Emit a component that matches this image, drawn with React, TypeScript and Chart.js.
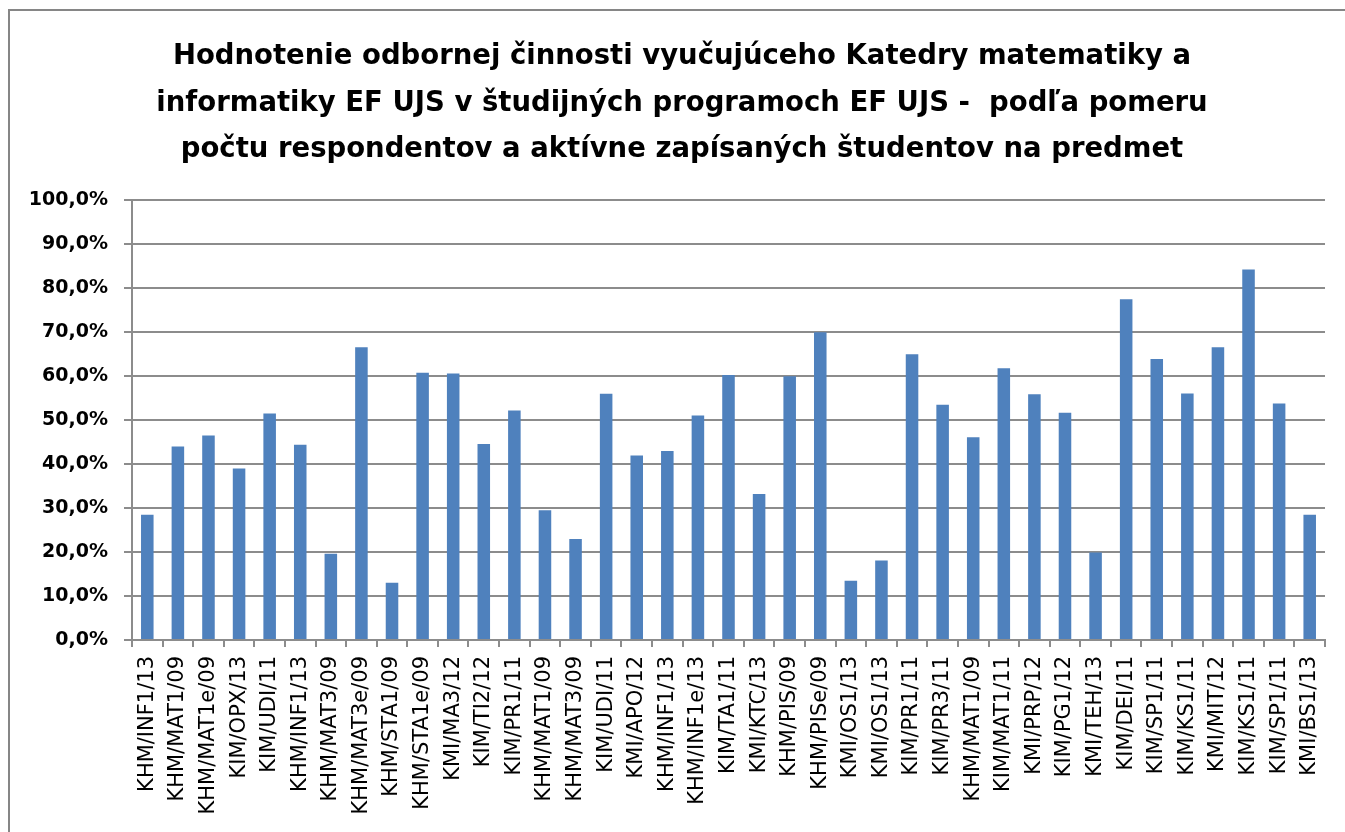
import React, { useEffect, useRef } from "react";
import { Chart, registerables } from "chart.js";

Chart.register(...registerables);

const titleLines = [
  "Hodnotenie odbornej činnosti vyučujúceho Katedry matematiky a",
  "informatiky EF UJS v študijných programoch EF UJS -  podľa pomeru",
  "počtu respondentov a aktívne zapísaných študentov na predmet",
];

const categories = [
  "KHM/INF1/13", "KHM/MAT1/09", "KHM/MAT1e/09", "KIM/OPX/13", "KIM/UDI/11",
  "KHM/INF1/13", "KHM/MAT3/09", "KHM/MAT3e/09", "KHM/STA1/09", "KHM/STA1e/09",
  "KMI/MA3/12", "KIM/TI2/12", "KIM/PR1/11", "KHM/MAT1/09", "KHM/MAT3/09",
  "KIM/UDI/11", "KMI/APO/12", "KHM/INF1/13", "KHM/INF1e/13", "KIM/TA1/11",
  "KMI/KTC/13", "KHM/PIS/09", "KHM/PISe/09", "KMI/OS1/13", "KMI/OS1/13",
  "KIM/PR1/11", "KIM/PR3/11", "KHM/MAT1/09", "KIM/MAT1/11", "KMI/PRP/12",
  "KIM/PG1/12", "KMI/TEH/13", "KIM/DEI/11", "KIM/SP1/11", "KIM/KS1/11",
  "KMI/MIT/12", "KIM/KS1/11", "KIM/SP1/11", "KMI/BS1/13",
];

const values = [
  28.5, 44.0, 46.5, 39.0, 51.5, 44.4, 19.6, 66.6, 13.0, 60.8,
  60.6, 44.6, 52.2, 29.5, 23.0, 56.0, 42.0, 43.0, 51.1, 60.3,
  33.2, 60.0, 70.0, 13.5, 18.1, 65.0, 53.5, 46.1, 61.8, 55.9,
  51.7, 19.9, 77.5, 63.9, 56.1, 66.6, 84.3, 53.8, 28.5,
];

const yMin = 0;
const yMax = 100;
const yStep = 10;

const titleShift = {
  id: "titleShift",
  afterLayout(chart: any) {
    const t = chart.titleBlock;
    if (t) {
      t.left += 19;
      t.width = t.right - t.left;
    }
  },
};

export default function App() {
  const canvasRef = useRef<HTMLCanvasElement | null>(null);

  useEffect(() => {
    if (!canvasRef.current) return;
    const chart = new Chart(canvasRef.current, {
      type: "bar",
      data: {
        labels: categories,
        datasets: [
          {
            data: values,
            backgroundColor: "#4F81BD",
            borderColor: "#4F81BD",
            borderWidth: 0,
            barPercentage: 0.41,
            categoryPercentage: 1.0,
          },
        ],
      },
      plugins: [titleShift],
      options: {
        animation: false,
        responsive: false,
        maintainAspectRatio: false,
        layout: { padding: { left: 10, right: 20, top: 0, bottom: 0 } },
        plugins: {
          legend: { display: false },
          tooltip: { enabled: false },
          title: {
            display: true,
            text: titleLines,
            color: "#000",
            font: { family: "DejaVu Sans", weight: "bold", size: 27.5, lineHeight: 1.69 },
            padding: { top: 23, bottom: 27 },
          },
        },
        scales: {
          x: {
            type: "category",
            offset: true,
            grid: {
              display: true,
              drawOnChartArea: false,
              drawTicks: true,
              tickLength: 7,
              offset: true,
              color: "#8c8c8c",
              lineWidth: 2,
            },
            border: { display: true, color: "#8c8c8c", width: 2 },
            ticks: {
              autoSkip: false,
              minRotation: 90,
              maxRotation: 90,
              padding: 9,
              color: "#000",
              font: { family: "DejaVu Sans", size: 21 },
            },
            afterFit: (scale: any) => {
              scale.height = 192;
            },
          },
          y: {
            min: yMin,
            max: yMax,
            grid: {
              display: true,
              color: "#8c8c8c",
              lineWidth: 2,
              tickLength: 8,
              drawTicks: true,
            },
            border: { display: true, color: "#8c8c8c", width: 2 },
            ticks: {
              stepSize: yStep,
              padding: 16,
              color: "#000",
              font: { family: "DejaVu Sans", weight: "bold", size: 19 },
              callback: (v: any) => Number(v).toFixed(1).replace(".", ",") + "%",
            },
            afterFit: (scale: any) => {
              scale.width = 112;
            },
          },
        },
      },
    });
    return () => chart.destroy();
  }, []);

  return (
    <div
      style={{
        position: "absolute",
        left: 8,
        top: 9,
        width: 1337,
        height: 823,
        borderLeft: "2px solid #868686",
        borderTop: "2px solid #868686",
        background: "#fff",
        overflow: "hidden",
      }}
    >
      <canvas ref={canvasRef} width={1335} height={821} style={{ display: "block" }} />
    </div>
  );
}
